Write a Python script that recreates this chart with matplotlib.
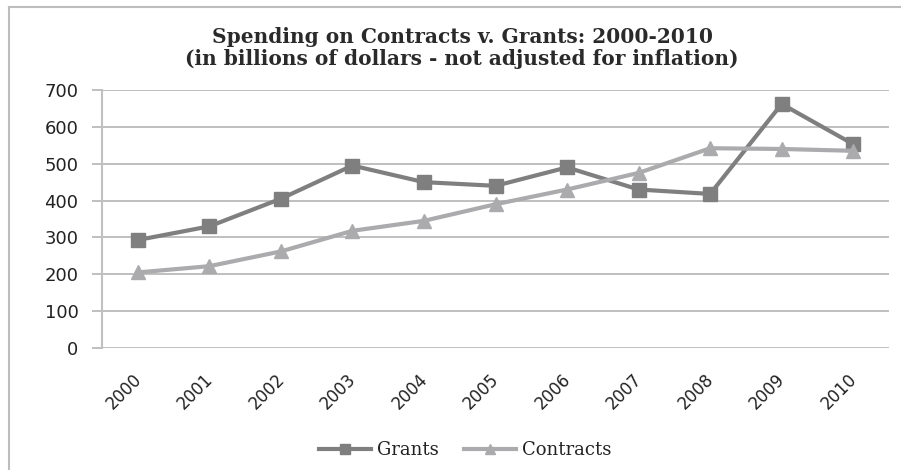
import matplotlib.pyplot as plt
from matplotlib.lines import Line2D
import matplotlib.transforms as mtransforms

# data
years = ["2000", "2001", "2002", "2003", "2004", "2005",
         "2006", "2007", "2008", "2009", "2010"]
grants = [293, 330, 405, 495, 450, 440, 490, 430, 418, 662, 553]
contracts = [205, 222, 262, 318, 345, 390, 430, 475, 542, 540, 535]
y_ticks = [0, 100, 200, 300, 400, 500, 600, 700]

grant_col = "#7f7f80"
contract_col = "#ababad"
grid_col = "#b4b4b4"

fig = plt.figure(figsize=(9.01, 4.70), dpi=100)
fig.patch.set_facecolor("white")

# outer chart frame (top and left edges visible in the reference)
fig.add_artist(Line2D([9 / 901, 1.0], [1 - 7 / 470, 1 - 7 / 470],
                      color="#bdbdbd", lw=1.5, transform=fig.transFigure))
fig.add_artist(Line2D([9 / 901, 9 / 901], [0, 1 - 7 / 470],
                      color="#bdbdbd", lw=1.5, transform=fig.transFigure))

ax = fig.add_axes([102 / 901, 1 - 348 / 470, (889 - 102) / 901, (348 - 90) / 470])
x = list(range(len(years)))

ax.plot(x, grants, color=grant_col, lw=3, marker="s", markersize=10,
        label="Grants", zorder=3)
ax.plot(x, contracts, color=contract_col, lw=3, marker="^", markersize=10,
        label="Contracts", zorder=3)

ax.set_xlim(-0.5, len(years) - 0.5)
ax.set_ylim(0, 700)
ax.set_yticks(y_ticks)
ax.set_yticklabels([str(v) for v in y_ticks], fontfamily="DejaVu Sans",
                   fontsize=13, color="#222222")
ax.set_xticks(x)
ax.set_xticklabels(years, rotation=45, ha="right", rotation_mode="anchor",
                   fontfamily="DejaVu Sans", fontsize=12, color="#222222")
ax.tick_params(axis="x", length=0, pad=16)
ax.tick_params(axis="y", length=7, color=grid_col, width=1.2, pad=10)
# nudge rotated year labels a little to the left
shift = mtransforms.ScaledTranslation(-4 / 72, 0, fig.dpi_scale_trans)
for lbl in ax.get_xticklabels():
    lbl.set_transform(lbl.get_transform() + shift)

ax.grid(axis="y", color=grid_col, lw=1.2)
ax.set_axisbelow(True)
for side in ["top", "right", "bottom"]:
    ax.spines[side].set_visible(False)
ax.spines["left"].set_color("#c0c0c0")
ax.spines["left"].set_linewidth(1.5)

fig.text(0.513, 1 - 37 / 470, "Spending on Contracts v. Grants: 2000-2010",
         ha="center", va="center", fontfamily="DejaVu Serif",
         fontweight="bold", fontsize=14.5, color="#2a2a2a")
fig.text(0.513, 1 - 59 / 470,
         "(in billions of dollars - not adjusted for inflation)",
         ha="center", va="center", fontfamily="DejaVu Serif",
         fontweight="bold", fontsize=14.5, color="#2a2a2a")

leg = fig.legend(loc="center", bbox_to_anchor=(0.516, 1 - 450 / 470),
                 ncol=2, frameon=False, handlelength=2.9, handletextpad=0.3,
                 columnspacing=1.4, markerscale=0.75,
                 prop={"family": "DejaVu Serif", "size": 13})
for t in leg.get_texts():
    t.set_color("#222222")

fig.savefig("out.png", dpi=100, facecolor="white")
